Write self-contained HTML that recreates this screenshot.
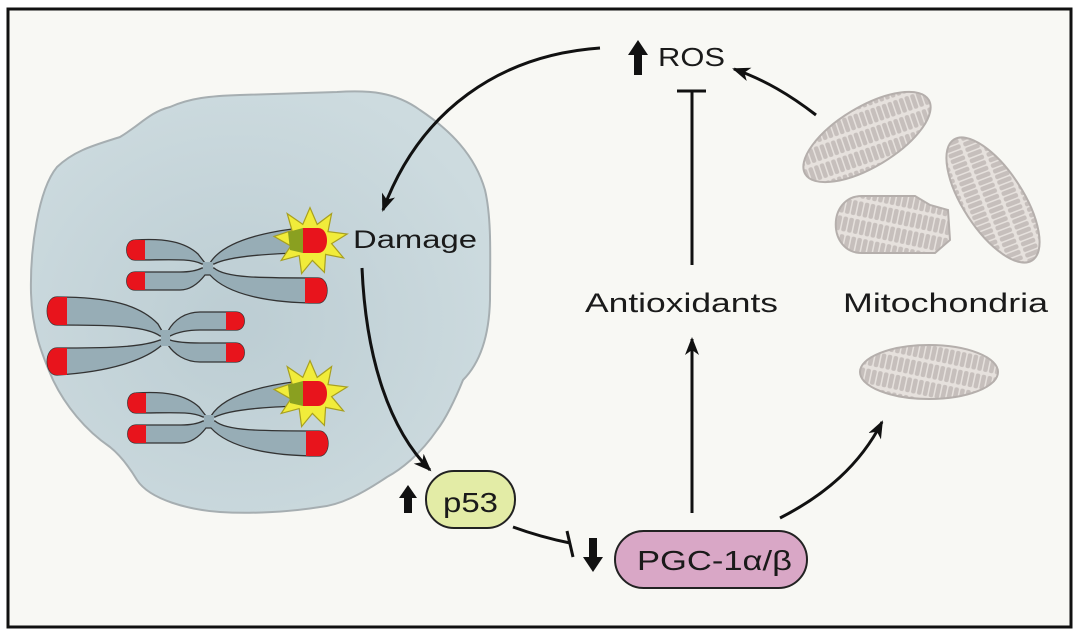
<!DOCTYPE html>
<html><head><meta charset="utf-8"><style>
html,body{margin:0;padding:0;background:#fff}
svg{display:block}
text{font-family:"Liberation Sans",Arial,sans-serif;fill:#1a1a1a}
</style></head><body>
<svg width="1080" height="637" viewBox="0 0 1080 637" xmlns="http://www.w3.org/2000/svg">
<defs>
<pattern id="cr" width="6" height="18" patternUnits="userSpaceOnUse" patternTransform="rotate(12)">
<rect width="6" height="18" fill="#e6e1dd"/>
<rect x="0.5" y="0" width="4.5" height="15" rx="2" fill="#c6bfbc"/>
</pattern>
<marker id="ah" markerWidth="20" markerHeight="16" refX="16" refY="7" orient="auto" markerUnits="userSpaceOnUse">
<path d="M0,0 L18,7 L0,14 L5,7z" fill="#111"/>
</marker>
<radialGradient id="nuc" cx="0.45" cy="0.55" r="0.6">
<stop offset="0" stop-color="#bccdd3"/><stop offset="1" stop-color="#cddbdf"/>
</radialGradient>
<g id="star">
<polygon points="312,210 318,224 330,215 327,230 343,232 330,240 340,252 325,249 324,264 314,254 305,265 303,250 288,254 296,242 282,234 297,229 293,215 306,224" fill="#f1ec3a" stroke="#a8a020" stroke-width="1" transform="translate(312,237) scale(1.2) translate(-312,-237)"/>
</g>
<g id="chr">
 <g stroke="#333" stroke-width="1.3" fill="#97adb6">
  <path d="M135,240 C165,238 185,242 198,254 L205,263 L210,263 C218,250 240,235 300,228 L318,227 C330,227 330,253 318,253 L300,253 C260,254 228,257 214,264 L202,264 C190,258 170,260 135,260 C124,260 124,240 135,240Z"/>
  <path d="M135,272 L180,272 C192,272 198,270 202,268 L214,268 C225,278 260,278 318,278 C330,278 330,303 318,303 C270,303 228,295 210,275 L205,275 C198,284 190,290 180,290 L135,290 C124,290 124,272 135,272Z"/>
  <rect x="203" y="262" width="10" height="8" fill="#97adb6" stroke="none"/>
 </g>
 <g fill="#e8141c">
  <path d="M145,240 L135,240 C124,240 124,260 135,260 L145,260Z"/>
  <path d="M145,272 L135,272 C124,272 124,290 135,290 L145,290Z"/>
  <path d="M305,278 L318,278 C330,278 330,303 318,303 L305,303Z"/>
 </g>
</g>
</defs>
<rect x="0" y="0" width="1080" height="637" fill="#fff"/>
<rect x="8" y="9" width="1063" height="618" fill="#f8f8f4" stroke="#111" stroke-width="3"/>

<!-- nucleus -->
<path d="M57,167 C75,150 95,145 120,137 C140,125 150,112 170,107 C190,98 210,96 240,95 L337,92 C370,90 395,92 420,110 C450,130 475,155 485,190 C492,220 490,260 490,300 C489,340 478,365 463,380 C455,400 445,420 437,430 C420,455 400,470 387,477 C360,495 340,505 320,507 C290,512 250,514 220,512 C190,510 150,500 137,480 C128,465 120,455 110,447 C85,430 65,405 53,380 C42,355 32,330 31,293 C30,250 38,190 57,167Z" fill="url(#nuc)" stroke="#a6aeb1" stroke-width="2"/>

<!-- chromosomes -->
<use href="#chr"/>
<use href="#chr" transform="translate(1,153)"/>
<g stroke="#333" stroke-width="1.3" fill="#97adb6">
 <path d="M57,297 C110,297 140,305 158,324 L162,331 L168,331 C174,320 185,312 200,312 L236,312 C247,312 247,330 236,330 L200,330 C185,330 176,333 170,336 L160,336 C145,325 100,325 57,325 C44,325 44,297 57,297Z"/>
 <path d="M57,348 C100,348 140,348 160,340 L170,340 C176,342 185,343 200,343 L236,343 C247,343 247,362 236,362 L200,362 C185,362 174,354 168,345 L162,345 C145,360 110,372 57,375 C44,375 44,348 57,348Z"/>
 <rect x="161" y="330" width="9" height="16" fill="#97adb6" stroke="none"/>
</g>
<g fill="#e8141c">
 <path d="M67,297 L57,297 C44,297 44,325 57,325 L67,325Z"/>
 <path d="M67,348 L57,348 C44,348 44,375 57,375 L67,375Z"/>
 <path d="M226,312 L236,312 C247,312 247,330 236,330 L226,330Z"/>
 <path d="M226,343 L236,343 C247,343 247,362 236,362 L226,362Z"/>
</g>
<!-- starbursts with damaged ends -->
<g transform="translate(-2,3)">
 <use href="#star"/>
 <path d="M305,225 L320,225 C332,225 332,250 320,250 L305,250Z" fill="#e8141c"/>
 <path d="M290,229 L305,225 L305,250 L292,247Z" fill="#8aa020"/>
</g>
<g transform="translate(-2,156)">
 <use href="#star"/>
 <path d="M305,225 L320,225 C332,225 332,250 320,250 L305,250Z" fill="#e8141c"/>
 <path d="M290,229 L305,225 L305,250 L292,247Z" fill="#8aa020"/>
</g>

<text x="353" y="248" font-size="25" textLength="124" lengthAdjust="spacingAndGlyphs">Damage</text>

<!-- connectors -->
<g stroke="#111" stroke-width="3" fill="none">
 <path d="M600,48 C500,55 420,110 383,210" marker-end="url(#ah)"/>
 <path d="M362,268 C366,360 390,430 430,470" marker-end="url(#ah)"/>
 <path d="M816,115 C790,95 765,80 734,69" marker-end="url(#ah)"/>
 <path d="M692,513 L692,339" marker-end="url(#ah)"/>
 <path d="M692,265 L692,91"/>
 <path d="M677,91 L706,91"/>
 <path d="M780,518 C825,495 860,465 882,422" marker-end="url(#ah)"/>
 <path d="M513,527 C535,535 555,540 570,543"/>
 <path d="M567,531 L573,557"/>
</g>

<!-- ROS -->
<path d="M638,40 L648,55 L642,55 L642,75 L634,75 L634,55 L628,55Z" fill="#111"/>
<text x="658" y="66" font-size="26" textLength="67" lengthAdjust="spacingAndGlyphs">ROS</text>

<text x="585" y="312" font-size="27" textLength="193" lengthAdjust="spacingAndGlyphs">Antioxidants</text>
<text x="843" y="312" font-size="27" textLength="205" lengthAdjust="spacingAndGlyphs">Mitochondria</text>

<!-- p53 -->
<path d="M408,485 L417,498 L412,498 L412,513 L404,513 L404,498 L399,498Z" fill="#111"/>
<rect x="426" y="471" width="89" height="57" rx="28" fill="#e3eca6" stroke="#222" stroke-width="2"/>
<text x="443" y="512" font-size="28" textLength="55" lengthAdjust="spacingAndGlyphs">p53</text>

<!-- PGC -->
<path d="M593,572 L603,557 L597,557 L597,538 L589,538 L589,557 L583,557Z" fill="#111"/>
<rect x="615" y="531" width="192" height="57" rx="28.5" fill="#d9a7c6" stroke="#222" stroke-width="2"/>
<text x="637" y="570" font-size="28" textLength="155" lengthAdjust="spacingAndGlyphs">PGC-1α/β</text>

<!-- mitochondria -->
<g stroke="#b5afac" stroke-width="2" fill="url(#cr)">
 <ellipse cx="867" cy="137" rx="72" ry="30" transform="rotate(-31 867 137)"/>
 <ellipse cx="993" cy="200" rx="72" ry="30" transform="rotate(57 993 200)"/>
 <path d="M862,196 L915,196 L930,205 L948,210 L950,240 L935,253 L862,253 C827,253 827,196 862,196Z"/>
 <ellipse cx="929" cy="372" rx="69" ry="27"/>
</g>
</svg>
</body></html>
